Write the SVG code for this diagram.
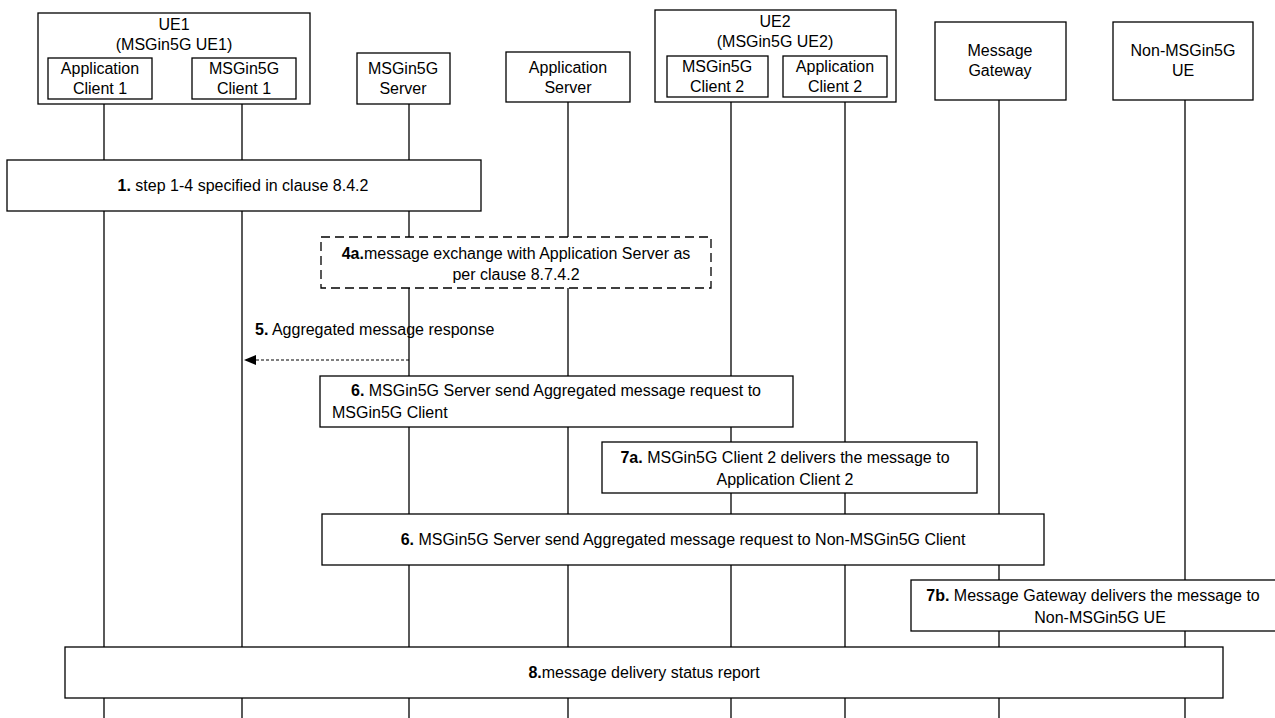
<svg xmlns="http://www.w3.org/2000/svg" width="1275" height="718" viewBox="0 0 1275 718">
<defs>
<style>
.box{fill:#fff;stroke:#000;stroke-width:1.3}
.dbox{fill:#fff;stroke:#000;stroke-width:1.3;stroke-dasharray:9 5}
.life{stroke:#000;stroke-width:1.3;fill:none}
text{font-family:"Liberation Sans",Arial,sans-serif;font-size:16px;fill:#000;text-anchor:middle}
.l{text-anchor:start}
.b{font-weight:bold}
</style>
<marker id="ah" viewBox="0 0 12 10" refX="12" refY="5" markerWidth="12" markerHeight="10" markerUnits="userSpaceOnUse" orient="auto">
<path d="M0,0 L12,5 L0,10 z" fill="#000"/>
</marker>
</defs>
<rect width="1275" height="718" fill="#fff"/>
<g id="lifelines">
<line class="life" x1="104" y1="99" x2="104" y2="718"/>
<line class="life" x1="242" y1="99" x2="242" y2="718"/>
<line class="life" x1="409" y1="104" x2="409" y2="718"/>
<line class="life" x1="568" y1="102" x2="568" y2="718"/>
<line class="life" x1="731" y1="97" x2="731" y2="718"/>
<line class="life" x1="845" y1="97" x2="845" y2="718"/>
<line class="life" x1="999" y1="100" x2="999" y2="718"/>
<line class="life" x1="1185" y1="100" x2="1185" y2="718"/>
</g>
<g id="ue1">
<rect class="box" x="38" y="13" width="272" height="91"/>
<text x="174" y="30">UE1</text>
<text x="174" y="50">(MSGin5G UE1)</text>
</g>
<g id="appclient1">
<rect class="box" x="48" y="58" width="104" height="41"/>
<text x="100" y="74">Application</text>
<text x="100" y="94">Client 1</text>
</g>
<g id="msgclient1">
<rect class="box" x="192" y="58" width="104" height="41"/>
<text x="244" y="74">MSGin5G</text>
<text x="244" y="94">Client 1</text>
</g>
<g id="msgserver">
<rect class="box" x="357" y="53" width="93" height="51"/>
<text x="403" y="74">MSGin5G</text>
<text x="403" y="94">Server</text>
</g>
<g id="appserver">
<rect class="box" x="506" y="52" width="124" height="50"/>
<text x="568" y="73">Application</text>
<text x="568" y="93">Server</text>
</g>
<g id="ue2">
<rect class="box" x="655" y="10" width="241" height="92"/>
<text x="775" y="27">UE2</text>
<text x="775" y="47">(MSGin5G UE2)</text>
</g>
<g id="msgclient2">
<rect class="box" x="667" y="56" width="101" height="41"/>
<text x="717" y="72">MSGin5G</text>
<text x="717" y="92">Client 2</text>
</g>
<g id="appclient2">
<rect class="box" x="783" y="56" width="104" height="41"/>
<text x="835" y="72">Application</text>
<text x="835" y="92">Client 2</text>
</g>
<g id="gateway">
<rect class="box" x="935" y="22" width="131" height="78"/>
<text x="1000" y="56">Message</text>
<text x="1000" y="76">Gateway</text>
</g>
<g id="nonue">
<rect class="box" x="1113" y="22" width="140" height="78"/>
<text x="1183" y="56">Non-MSGin5G</text>
<text x="1183" y="76">UE</text>
</g>
<g id="step1">
<rect class="box" x="7" y="160" width="474" height="51"/>
<text x="243" y="191"><tspan class="b">1.</tspan> step 1-4 specified in clause 8.4.2</text>
</g>
<g id="step4a">
<rect class="dbox" x="321" y="237" width="390" height="51"/>
<text x="516" y="259"><tspan class="b">4a.</tspan>message exchange with Application Server as</text>
<text x="516" y="280">per clause 8.7.4.2</text>
</g>
<g id="connectors">
<line x1="409" y1="360" x2="244" y2="360" stroke="#000" stroke-width="1" stroke-dasharray="3 2" marker-end="url(#ah)"/>
<text class="l" x="255" y="335"><tspan class="b">5.</tspan> Aggregated message response</text>
</g>
<g id="step6a">
<rect class="box" x="320" y="376" width="473" height="51"/>
<text x="556" y="396"><tspan class="b">6.</tspan> MSGin5G Server send Aggregated message request to</text>
<text class="l" x="332" y="418">MSGin5G Client</text>
</g>
<g id="step7a">
<rect class="box" x="602" y="442" width="375" height="51"/>
<text x="785" y="463"><tspan class="b">7a.</tspan> MSGin5G Client 2 delivers the message to</text>
<text x="785" y="485">Application Client 2</text>
</g>
<g id="step6b">
<rect class="box" x="322" y="514" width="722" height="51"/>
<text x="683" y="545"><tspan class="b">6.</tspan> MSGin5G Server send Aggregated message request to Non-MSGin5G Client</text>
</g>
<g id="step7b">
<rect class="box" x="911" y="580" width="370" height="51"/>
<text x="1093" y="601"><tspan class="b">7b.</tspan> Message Gateway delivers the message to</text>
<text x="1100" y="623">Non-MSGin5G UE</text>
</g>
<g id="step8">
<rect class="box" x="65" y="647" width="1158" height="51"/>
<text x="644" y="678"><tspan class="b">8.</tspan>message delivery status report</text>
</g>
</svg>
